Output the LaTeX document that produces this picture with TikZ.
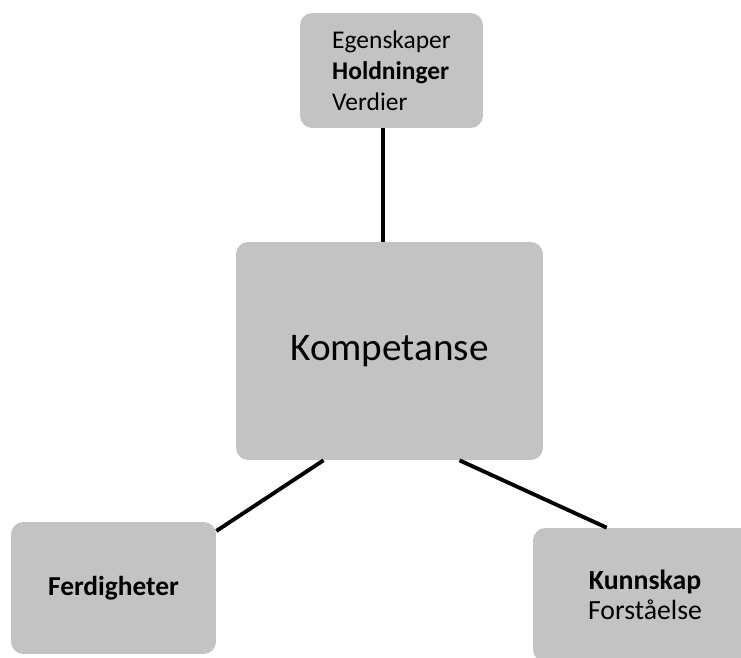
\documentclass[tikz,border=0pt]{standalone}
\usepackage{fontspec}
\setmainfont{Carlito}
\usepackage{tikz}
\usetikzlibrary{positioning}
\definecolor{boxgray}{RGB}{195, 195, 195}
\tikzstyle{boks} = [rectangle, rounded corners=7pt, fill=boxgray, text=black, align=left, inner sep=0pt]
\tikzstyle{linje} = [line width=2.2pt, black]

\begin{document}
\begin{tikzpicture}[x=0.02cm, y=-0.02cm]
    \clip (0,0) rectangle (741,658);
    \useasboundingbox (0,0) rectangle (741,658);
    % boxes
    \node[boks, minimum width=3.66cm, minimum height=2.3cm, font=\fontsize{14.5}{17.6}\selectfont] (egenskaper) at (391.5,70.5) {Egenskaper\\\textbf{Holdninger}\\Verdier};
    \node[boks, minimum width=6.14cm, minimum height=4.36cm, font=\fontsize{22.3}{26}\selectfont] (kompetanse) at (389.5,351) {Kompetanse};
    \node[boks, minimum width=4.1cm, minimum height=2.64cm, font=\fontsize{15.6}{17}\selectfont] (ferdigheter) at (113.5,588) {\textbf{Ferdigheter}};
    \node[boks, minimum width=4.48cm, minimum height=2.68cm, font=\fontsize{15.8}{17.4}\selectfont, align=center] (kunnskap) at (645,595) {\textbf{Kunnskap}\\Forståelse};
    % connectors
    \draw[linje] ([xshift=-0.17cm]egenskaper.south) -- ([xshift=-0.17cm]egenskaper.south |- kompetanse.north);
    \draw[linje] ([xshift=-1.32cm]kompetanse.south) -- (ferdigheter.29);
    \draw[linje] ([xshift=1.4cm]kompetanse.south) -- ([xshift=1.48cm]kunnskap.north west);
\end{tikzpicture}
\end{document}
